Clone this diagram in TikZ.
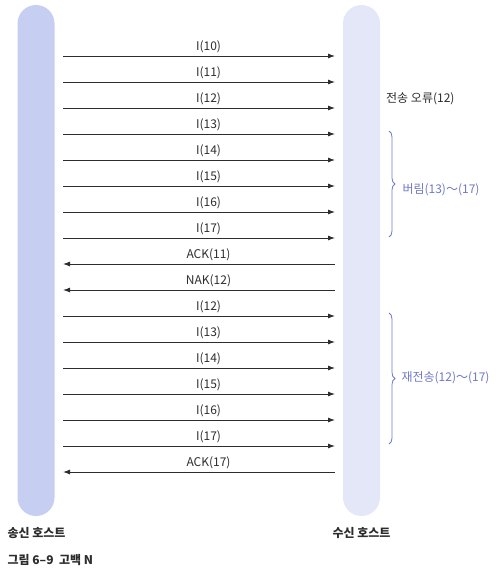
\documentclass[tikz,border=0pt]{standalone}
\usepackage{fontspec}
\setmainfont{Noto Sans CJK KR}
\usetikzlibrary{decorations.pathreplacing, arrows.meta}

\definecolor{sendblue}{RGB}{198,206,241}
\definecolor{recvblue}{RGB}{227,231,247}
\definecolor{bracecol}{RGB}{112,120,200}
\definecolor{inkgray}{RGB}{45,45,45}

\tikzset{
  host/.style={rectangle, rounded corners=18.5pt, minimum width=37pt,
    minimum height=511pt, inner sep=0pt},
  msg/.style={draw=inkgray, line width=0.9pt},
  msglabel/.style={font=\fontsize{12}{14}\selectfont, text=inkgray, inner sep=1pt},
  grpbrace/.style={draw=bracecol, line width=0.8pt,
    decorate, decoration={brace, amplitude=6pt}},
  grplabel/.style={font=\fontsize{12}{14}\selectfont, text=bracecol},
  hostname/.style={font=\fontsize{12}{14}\selectfont\bfseries, text=inkgray, anchor=west}
}

\begin{document}
\begin{tikzpicture}[x=1pt, y=-1pt, >={Latex[length=7pt,width=5pt]}]
    \useasboundingbox (0,0) rectangle (500,578);

    % ==================== HOST BARS ====================
    \node[host, fill=sendblue] (sender) at (36,260.5) {};
    \node[host, fill=recvblue] (receiver) at (361.5,260.5) {};

    % ==================== FRAMES ====================
    \foreach \lab/\dir [count=\i] in {I(10)/->, I(11)/->, I(12)/->, I(13)/->,
        I(14)/->, I(15)/->, I(16)/->, I(17)/->, ACK(11)/<-, NAK(12)/<-,
        I(12)/->, I(13)/->, I(14)/->, I(15)/->, I(16)/->, I(17)/->, ACK(17)/<-}
    {
        \pgfmathsetmacro\yy{56+26*(\i-1)}
        \coordinate (s\i) at (63,\yy);
        \coordinate (r\i) at (335,\yy);
        \draw[msg, \dir] (s\i) -- (r\i)
            node[msglabel, pos=0.535, above=2pt] (f\i) {\lab};
    }

    % ==================== NOTES ====================
    \node[msglabel, anchor=west] (err) at (385,99) {전송 오류(12)};

    \draw[grpbrace] (389,131) -- (389,237);
    \node[grplabel, anchor=west] (drop) at (399,190) {버림(13)～(17)};

    \draw[grpbrace] (389,313) -- (389,444);
    \node[grplabel, anchor=west] (resend) at (398,378) {재전송(12)～(17)};

    % ==================== CAPTIONS ====================
    \node[hostname] (sname) at (4,533) {송신 호스트};
    \node[hostname] (rname) at (329,533) {수신 호스트};
    \node[hostname] (fig) at (4,560) {그림 6–9\ \ 고백 N};

\end{tikzpicture}
\end{document}
